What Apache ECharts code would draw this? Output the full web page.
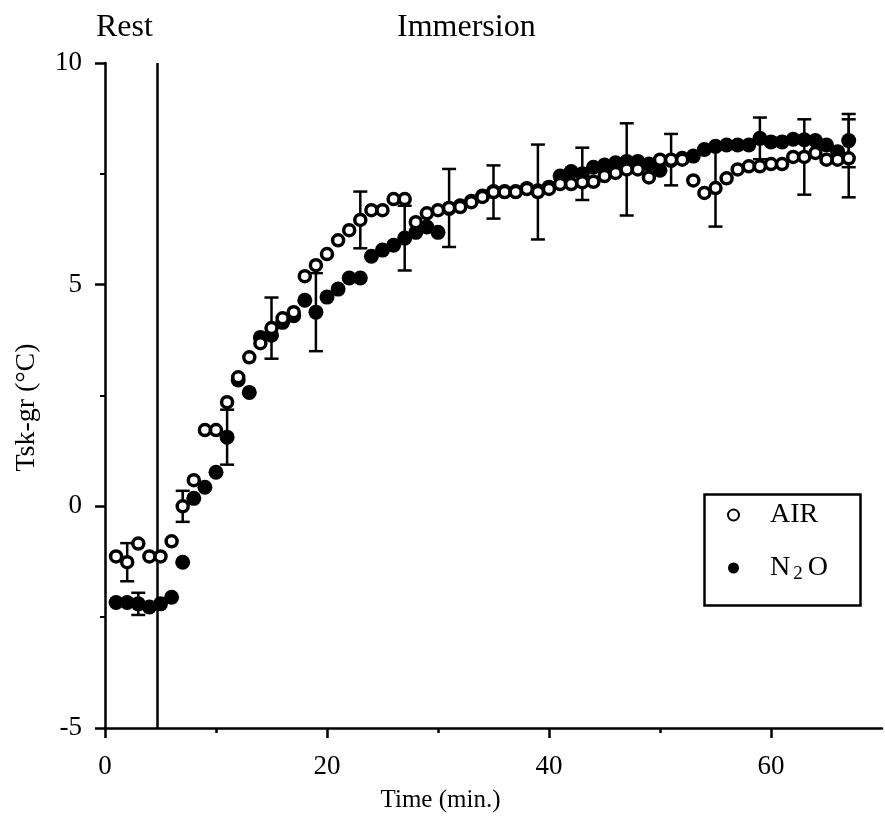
<!DOCTYPE html>
<html>
<head>
<meta charset="utf-8">
<script src="https://cdn.jsdelivr.net/npm/echarts@6/dist/echarts.min.js"></script>
<style>
  html, body { margin: 0; padding: 0; background: #fff; }
  #chart { width: 885px; height: 824px; }
</style>
</head>
<body>
<div id="chart"></div>
<script>
// minutes from start (rest 0-4.7, then immersion)
var minutes = [1, 2, 3, 4, 5, 6, 7, 8, 9, 10, 11, 12, 13, 14, 15, 16, 17, 18, 19, 20,
  21, 22, 23, 24, 25, 26, 27, 28, 29, 30, 31, 32, 33, 34, 35, 36, 37, 38, 39, 40,
  41, 42, 43, 44, 45, 46, 47, 48, 49, 50, 51, 52, 53, 54, 55, 56, 57, 58, 59, 60,
  61, 62, 63, 64, 65, 66, 67]

// Tsk-gr, open circles
var airVals = [-1.13, -1.26, -0.84, -1.13, -1.13, -0.79, 0.0, 0.59, 1.72, 1.72,
  2.35, 2.91, 3.36, 3.68, 4.02, 4.24, 4.38, 5.19, 5.44, 5.69,
  6.0, 6.23, 6.46, 6.68, 6.68, 6.93, 6.93, 6.41, 6.61, 6.68,
  6.73, 6.75, 6.86, 6.98, 7.09, 7.09, 7.09, 7.16, 7.09, 7.16,
  7.27, 7.27, 7.31, 7.32, 7.45, 7.52, 7.6, 7.6, 7.42, 7.82,
  7.82, 7.82, 7.35, 7.07, 7.18, 7.4, 7.6, 7.67, 7.67, 7.72,
  7.72, 7.88, 7.88, 7.97, 7.82, 7.82, 7.85]

// Tsk-gr, filled circles
var n2oVals = [-2.17, -2.17, -2.2, -2.27, -2.2, -2.05, -1.26, 0.18, 0.43, 0.77,
  1.56, 2.85, 2.57, 3.81, 3.86, 4.15, 4.3, 4.65, 4.38, 4.72,
  4.9, 5.15, 5.15, 5.64, 5.78, 5.89, 6.05, 6.18, 6.3, 6.18,
  6.72, 6.78, 6.88, 7.0, 7.1, 7.1, 7.1, 7.17, 7.12, 7.2,
  7.45, 7.55, 7.5, 7.65, 7.7, 7.75, 7.78, 7.78, 7.72, 7.58,
  7.8, 7.85, 7.9, 8.05, 8.12, 8.15, 8.15, 8.15, 8.3, 8.22,
  8.22, 8.28, 8.27, 8.25, 8.15, 8.0, 8.25]

// [minute, SD]
var airSD = [[2, 0.43], [7, 0.35], [15, 0.69], [23, 0.64], [31, 0.88], [35, 0.6],
  [39, 1.07], [47, 1.04], [51, 0.58], [55, 0.87], [63, 0.85], [67, 0.88]]
var n2oSD = [[3, 0.25], [11, 0.62], [19, 0.88], [27, 0.73], [43, 0.59], [59, 0.47], [67, 0.6]]

var restEnd = 4.7
var xTicks = [0, 20, 40, 60]
var xMinorTicks = [10, 30, 50]

var font = 'Liberation Serif'

function pairs(xs, ys) {
  return xs.map(function (x, i) { return [x, ys[i]] })
}

function errData(sd, vals) {
  return sd.map(function (d) {
    var m = vals[minutes.indexOf(d[0])]
    return [d[0], m, d[1]]
  })
}

function errSeries(name, data, z) {
  return {
    type: 'custom',
    name: name,
    z: z,
    silent: true,
    data: data,
    renderItem: function (params, api) {
      var x = api.value(0), m = api.value(1), sd = api.value(2)
      var hi = api.coord([x, m + sd])
      var lo = api.coord([x, m - sd])
      var w = 7
      var st = { stroke: '#000', lineWidth: 2.5 }
      return {
        type: 'group',
        children: [
          { type: 'line', shape: { x1: hi[0], y1: hi[1], x2: lo[0], y2: lo[1] }, style: st },
          { type: 'line', shape: { x1: hi[0] - w, y1: hi[1], x2: hi[0] + w, y2: hi[1] }, style: st },
          { type: 'line', shape: { x1: lo[0] - w, y1: lo[1], x2: lo[0] + w, y2: lo[1] }, style: st }
        ]
      }
    }
  }
}

var chart = echarts.init(document.getElementById('chart'))

chart.setOption({
  animation: false,
  backgroundColor: '#fff',
  textStyle: { fontFamily: font, color: '#000' },
  grid: { left: 105, right: 3, top: 63, bottom: 96 },
  legend: {
    orient: 'vertical',
    left: 722,
    top: 496,
    itemWidth: 11,
    itemHeight: 11,
    itemGap: 25,
    data: ['AIR', 'N2O'],
    textStyle: {
      fontFamily: font, fontSize: 28, color: '#000', padding: [0, 0, 0, 26],
      rich: {
        t: { fontFamily: font, fontSize: 28, color: '#000' },
        s: { fontFamily: font, fontSize: 19, color: '#000', verticalAlign: 'bottom', padding: [12, 5, 0, 3] }
      }
    },
    formatter: function (name) {
      return name === 'N2O' ? '{t|N}{s|2}{t|O}' : '{t|' + name + '}'
    }
  },
  graphic: [
    { type: 'rect', left: 702, top: 492, shape: { width: 156, height: 111 },
      style: { fill: 'none', stroke: '#000', lineWidth: 2.5 } },
    { type: 'text', left: 96, top: 12, style: { text: 'Rest', font: '32px "Liberation Serif"', fill: '#000' } },
    { type: 'text', left: 397, top: 12, style: { text: 'Immersion', font: '32px "Liberation Serif"', fill: '#000' } }
  ],
  xAxis: [
    {
      type: 'value',
      min: 0,
      max: 70,
      name: 'Time (min.)',
      nameLocation: 'middle',
      nameGap: 60,
      nameTextStyle: { fontFamily: font, fontSize: 25, color: '#000', padding: [0, 106, 0, 0] },
      splitLine: { show: false },
      axisLine: { onZero: false, lineStyle: { color: '#000', width: 2.5 } },
      axisTick: { customValues: xTicks, length: 10, lineStyle: { color: '#000', width: 2.5 } },
      axisLabel: { customValues: xTicks, fontFamily: font, fontSize: 27, color: '#000', margin: 25 }
    },
    {
      type: 'value',
      min: 0,
      max: 70,
      position: 'bottom',
      splitLine: { show: false },
      axisLine: { show: false, onZero: false },
      axisTick: { customValues: xMinorTicks, length: 5, lineStyle: { color: '#000', width: 2.5 } },
      axisLabel: { show: false }
    }
  ],
  yAxis: {
    type: 'value',
    min: -5,
    max: 10,
    interval: 5,
    name: 'Tsk-gr (°C)',
    nameLocation: 'middle',
    nameGap: 64,
    nameTextStyle: { fontFamily: font, fontSize: 28, color: '#000', padding: [0, 24, 0, 0] },
    splitLine: { show: false },
    axisLine: { show: true, lineStyle: { color: '#000', width: 2.5 } },
    axisTick: { length: 10, lineStyle: { color: '#000', width: 2.5 } },
    minorTick: { show: true, splitNumber: 2, length: 5, lineStyle: { color: '#000', width: 2 } },
    axisLabel: { fontFamily: font, fontSize: 27, color: '#000', margin: 23 }
  },
  series: [
    errSeries('AIR SD', errData(airSD, airVals), 3),
    errSeries('N2O SD', errData(n2oSD, n2oVals), 3),
    {
      name: 'N2O',
      type: 'scatter',
      z: 4,
      symbol: 'circle',
      symbolSize: 15,
      itemStyle: { color: '#000', opacity: 1 },
      data: pairs(minutes, n2oVals),
      markLine: {
        silent: true,
        symbol: 'none',
        label: { show: false },
        lineStyle: { color: '#000', width: 2.5, type: 'solid' },
        data: [{ xAxis: restEnd }]
      }
    },
    {
      name: 'AIR',
      type: 'scatter',
      z: 5,
      symbol: 'circle',
      symbolSize: 11,
      itemStyle: { color: '#fff', borderColor: '#000', borderWidth: 3.5, opacity: 1 },
      data: pairs(minutes, airVals)
    }
  ]
})
</script>
</body>
</html>
